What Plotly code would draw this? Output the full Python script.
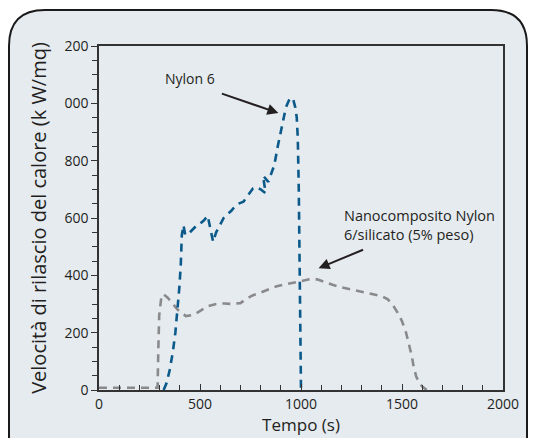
import plotly.graph_objects as go

# ---- data ----
nylon_t = [320, 335, 350, 365, 378, 390, 398, 405, 410, 418, 427, 447, 465, 485, 500, 520, 538,
           545, 552, 565, 580, 600, 617, 635, 655, 672, 690, 715, 745, 762, 780, 800, 825,
           812, 838, 852, 868, 885, 905, 925, 940, 952, 962, 972, 979, 984, 989, 994, 1000]
nylon_q = [0, 25, 70, 130, 200, 290, 360, 440, 540, 575, 541, 548, 560, 575, 580, 592, 608,
           585, 555, 517, 550, 578, 600, 612, 625, 640, 650, 657, 685, 703, 708, 700, 686,
           748, 726, 752, 785, 850, 920, 985, 1010, 1020, 1012, 985, 950, 880, 700, 400, 0]

nano_t = [0, 290, 294, 298, 308, 318, 340, 365, 390, 430, 470, 505, 540, 580, 620, 660, 700,
          730, 760, 800, 840, 880, 920, 960, 1000, 1040, 1080, 1120, 1160, 1200, 1240, 1280,
          1320, 1360, 1400, 1430, 1455, 1480, 1500, 1520, 1535, 1548, 1558, 1570, 1585, 1600,
          1615, 1625]
nano_q = [8, 8, 150, 260, 320, 335, 322, 300, 280, 258, 262, 278, 292, 300, 302, 300, 303,
          318, 330, 340, 352, 362, 368, 374, 380, 386, 386, 375, 366, 358, 352, 344,
          338, 334, 327, 316, 296, 268, 240, 200, 160, 120, 80, 48, 25, 12, 4, 0]

y_tickvals = [0, 200, 400, 600, 800, 1000, 1200]
y_ticktext = ["0", "200", "400", "600", "800", "000", "200"]
x_tickvals = [0, 500, 1000, 1500, 2000]
x_ticktext = ["0", "500", "1000", "1500", "2000"]

# ---- layout constants (page body has an 8px margin) ----
OFF = 8
W, H = 537 - OFF, 438 - OFF
ML, MR, MT, MB = 99 - OFF, 34, 46 - OFF, 48
PW, PH = W - ML - MR, H - MT - MB
BG = "#e6ebf0"
TXT = "#231f20"
FONT = "Open Sans"

def px(x):
    return (x - OFF - ML) / PW

def py(y):
    return (H - MB - (y - OFF)) / PH

fig = go.Figure()
fig.add_trace(go.Scatter(x=nano_t, y=nano_q, mode="lines",
                         line=dict(color="#8a8a8c", width=2.6, dash="8px,6px"),
                         showlegend=False, hoverinfo="skip"))
fig.add_trace(go.Scatter(x=nylon_t, y=nylon_q, mode="lines",
                         line=dict(color="#0b5a8a", width=2.6, dash="8px,6px"),
                         showlegend=False, hoverinfo="skip"))

# rounded frame (page pixel coordinates)
L, R, T, B, r = 9, 527, 10, 470, 36
path = (f"M {px(L)} {py(B)} L {px(L)} {py(T + r)} "
        f"Q {px(L)} {py(T)} {px(L + r)} {py(T)} "
        f"L {px(R - r)} {py(T)} Q {px(R)} {py(T)} {px(R)} {py(T + r)} "
        f"L {px(R)} {py(B)} Z")
fig.add_shape(type="path", path=path, xref="paper", yref="paper",
              fillcolor=BG, line=dict(color="#1a1a1a", width=2), layer="below")

fig.add_annotation(x=452, y=1088, text="Nylon 6", showarrow=False,
                   font=dict(size=14, color=TXT, family=FONT))
fig.add_annotation(x=888, y=966, ax=-58, ay=-20, text="", showarrow=True,
                   arrowhead=2, arrowsize=1.1, arrowwidth=2, arrowcolor=TXT)
fig.add_annotation(x=1205, y=575, text="Nanocomposito Nylon<br>6/silicato (5% peso)",
                   showarrow=False, xanchor="left", align="left",
                   font=dict(size=14.5, color=TXT, family=FONT))
fig.add_annotation(x=1087, y=425, ax=46, ay=-19, text="", showarrow=True,
                   arrowhead=2, arrowsize=1.1, arrowwidth=2, arrowcolor=TXT)

fig.update_layout(
    width=W, height=H,
    margin=dict(l=ML, r=MR, t=MT, b=MB),
    paper_bgcolor="white", plot_bgcolor=BG,
    font=dict(family=FONT, color=TXT),
    showlegend=False,
    xaxis=dict(range=[0, 2000], tickvals=x_tickvals, ticktext=x_ticktext,
               automargin=False,
               showgrid=False, zeroline=False, showline=True, linecolor="#333333",
               linewidth=1.5, mirror=True, ticks="inside", ticklen=6, tickwidth=1,
               tickcolor="#333333", tickfont=dict(size=14, color=TXT),
               minor=dict(dtick=100, ticks="inside", ticklen=5, tickcolor="#333333"),
               title=dict(text="Tempo (s)", font=dict(size=17, color=TXT), standoff=6)),
    yaxis=dict(range=[0, 1200], tickvals=y_tickvals, ticktext=y_ticktext,
               automargin=False,
               showgrid=False, zeroline=False, showline=True, linecolor="#333333",
               linewidth=1.5, mirror=True, ticks="outside", ticklen=6, tickwidth=1,
               tickcolor="#333333", tickfont=dict(size=14, color=TXT),
               minor=dict(dtick=50, ticks="outside", ticklen=5, tickcolor="#333333"),
               title=dict(text="Velocità di rilascio del calore (k W/mq)",
                          font=dict(size=20, color=TXT), standoff=12)),
)

fig.write_html("out.html")
